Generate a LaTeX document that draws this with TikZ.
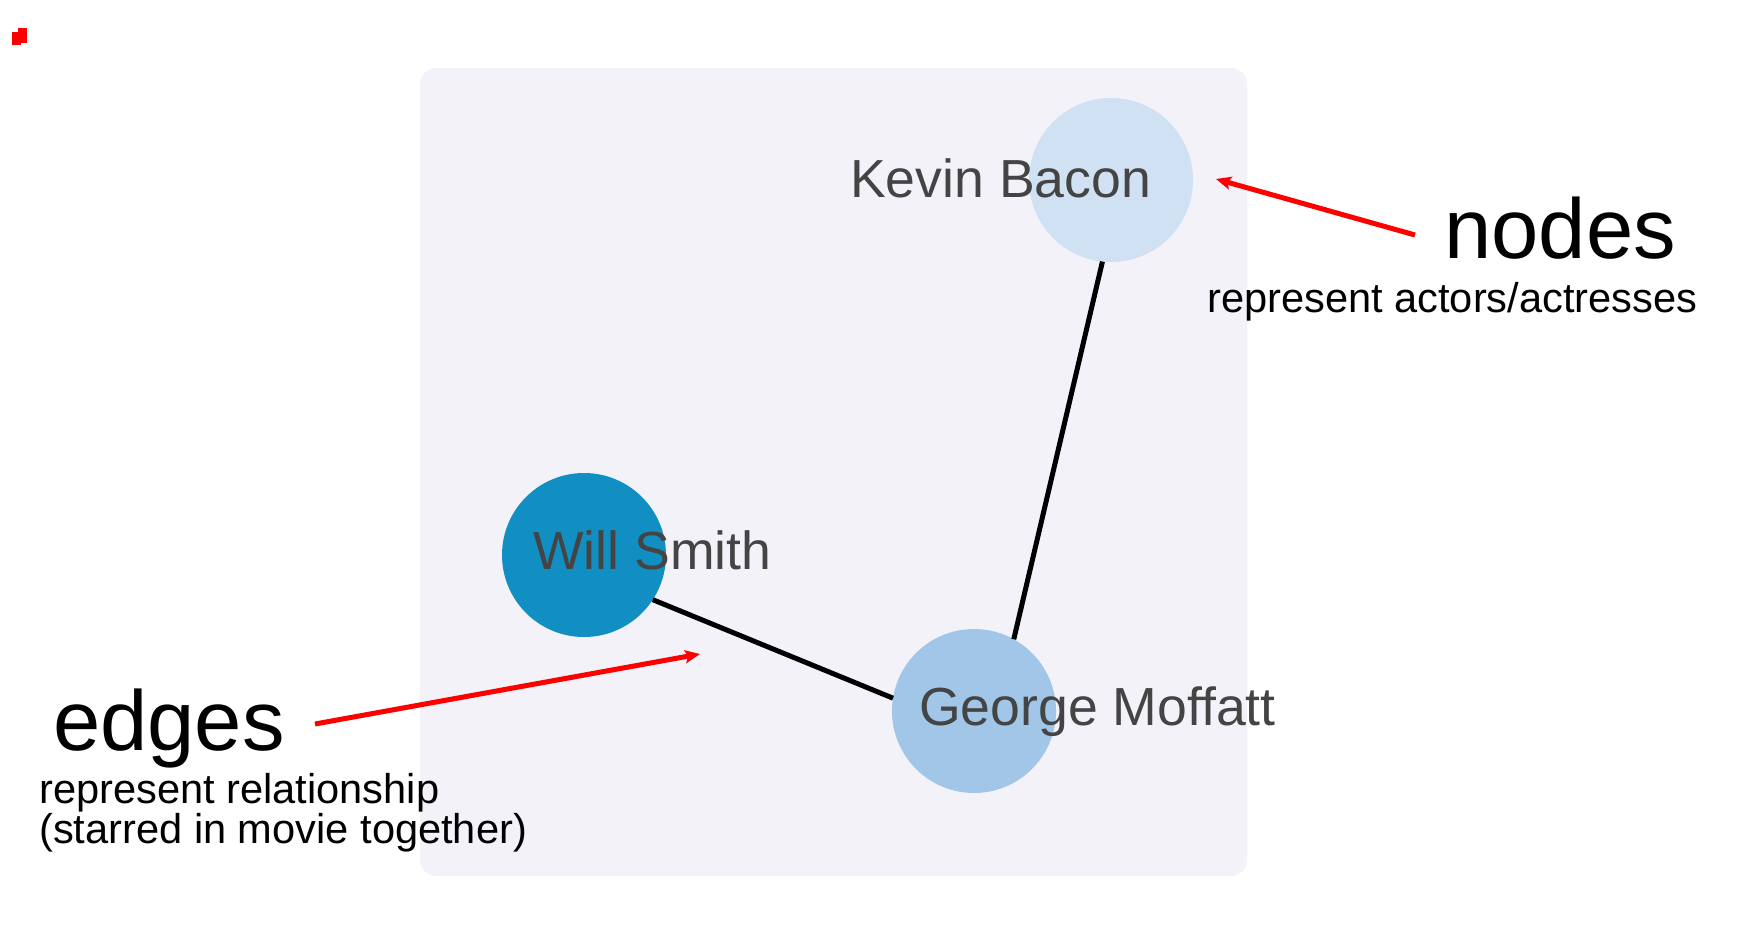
\documentclass[tikz,border=0pt]{standalone}
\usepackage{fontspec}
\setmainfont{Liberation Sans}
\usepackage{xcolor}
\usepackage{tikz}
\usetikzlibrary{arrows.meta,positioning}
\definecolor{panelbg}{HTML}{F4F2F9}
\definecolor{kevinfill}{HTML}{CFE1F2}
\definecolor{georgefill}{HTML}{A1C6E8}
\definecolor{willfill}{HTML}{118FC2}
\definecolor{namegray}{HTML}{444444}

\begin{document}
\begin{tikzpicture}[x=1pt, y=-1pt,
  actor/.style={circle, minimum size=164pt, inner sep=0pt, outer sep=0pt},
  actorname/.style={anchor=base west, inner sep=0pt, text=namegray, font=\fontsize{53.6}{60}\selectfont},
  title/.style={anchor=base west, inner sep=0pt, font=\fontsize{85}{90}\selectfont},
  caption/.style={anchor=base west, inner sep=0pt, font=\fontsize{41.6}{40}\selectfont},
  edge/.style={draw, line width=5pt},
  pointer/.style={draw, red, line width=5pt, -{Stealth[length=15pt, width=13pt, inset=3pt]}}]
  \useasboundingbox (0,0) rectangle (1752,930);
  \fill [red] (12,32) rectangle (21,45);
  \fill [red] (18,28) rectangle (27,43);
  \fill [panelbg, rounded corners=16pt] (420,68) rectangle (1247,876);
  \node [actor, fill=kevinfill] (kevin) at (1111,180) {};
  \node [actor, fill=willfill] (will) at (584,555) {};
  \node [actor, fill=georgefill] (george) at (974,711) {};
  \path [edge] (will.-33) -- (george.171);
  \path [edge] (kevin.-96.5) -- (george.61.6);
  \node [actorname] (kevinname) at (850,197) {Kevin Bacon};
  \node [actorname] (willname) at (533,569) {Will Smith};
  \node [actorname] (georgename) at (919,725) {George Moffatt};
  \node [title] (nodestitle) at (1444,258) {nodes};
  \node [caption] (nodesnote) at (1207,312) {represent actors/actresses};
  \node [title] (edgestitle) at (53,750) {edges};
  \node [caption] (edgesnote) at (39,803) {represent relationship};
  \node [caption] (edgesnotetwo) at (39,843) {(starred in movie together)};
  \coordinate (nodestail) at (1415,235);
  \coordinate (nodestip) at (1216,179);
  \coordinate (edgestail) at (315,724);
  \coordinate (edgestip) at (700,654);
  \path [pointer] (nodestail) -- (nodestip);
  \path [pointer] (edgestail) -- (edgestip);
\end{tikzpicture}
\end{document}
